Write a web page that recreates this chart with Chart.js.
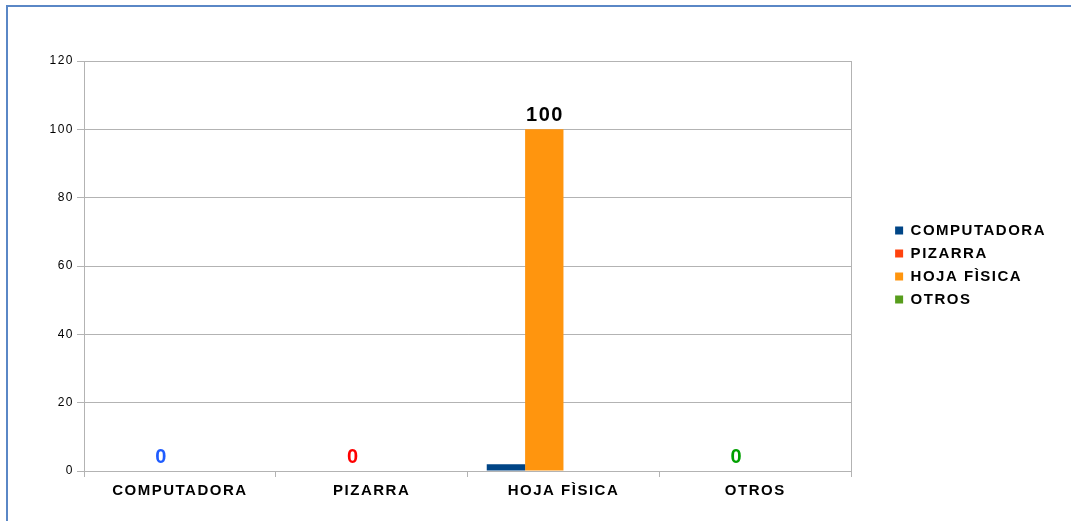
<!DOCTYPE html>
<html>
<head>
<meta charset="UTF-8">
<title>Recursos</title>
<script src="https://cdn.jsdelivr.net/npm/chart.js@4/dist/chart.umd.min.js"></script>
<style>
    html, body { margin: 0; padding: 0; background: #fff; overflow: hidden; }
    #wrap { position: relative; width: 1071px; height: 521px; }
    #frame {
        position: absolute; left: 6px; top: 5px; width: 2000px; height: 2000px;
        border-top: 2px solid #5a87c6; border-left: 2px solid #5a87c6;
    }
    canvas { position: absolute; left: 0; top: 0; }
</style>
</head>
<body>
<div id="wrap">
    <div id="frame"></div>
    <canvas id="chart" width="1071" height="521"></canvas>
</div>
<script>
// data
const categories = ['COMPUTADORA', 'PIZARRA', 'HOJA FÌSICA', 'OTROS'];
const seriesNames = ['COMPUTADORA', 'PIZARRA', 'HOJA FÌSICA', 'OTROS'];
const legendColors = ['#004586', '#ff420e', '#ff950e', '#579d1c'];
const serie1 = [0, 0, 2, 0];
const serie2 = [0, 0, 100, 0];
const serie3 = [0, 0, 0, 0];
const serie4 = [0, 0, 0, 0];
const barColors = ['#004586', '#ff950e', '#ff420e', '#579d1c'];
const labelColors = ['#1f5cff', '#ff0000', '#000000', '#00a000'];
const yTicks = [0, 20, 40, 60, 80, 100, 120];

const FONT = '"Liberation Sans", Arial, sans-serif';
const GRID = '#b3b3b3';
const SPACING = 1.5;

// wide LibreOffice-like letter spacing
const spacing = {
    id: 'spacing',
    beforeUpdate(chart) { chart.ctx.letterSpacing = SPACING + 'px'; },
    beforeDraw(chart) { chart.ctx.letterSpacing = SPACING + 'px'; }
};

// move legend away from the plot
const legendShift = {
    id: 'legendShift',
    afterLayout(chart) {
        const lg = chart.legend;
        lg.left += 36;
        lg.right += 36;
        lg.top -= 18;
        lg.bottom -= 18;
    }
};

// value labels on the second series
const valueLabels = {
    id: 'valueLabels',
    afterDatasetsDraw(chart) {
        const ctx = chart.ctx;
        const meta = chart.getDatasetMeta(1);
        ctx.save();
        ctx.font = 'bold 20px ' + FONT;
        ctx.textAlign = 'center';
        ctx.textBaseline = 'alphabetic';
        meta.data.forEach((bar, i) => {
            ctx.fillStyle = labelColors[i];
            ctx.fillText(String(serie2[i]), bar.x + SPACING / 2, bar.y - 8);
        });
        ctx.restore();
    }
};

const datasets = [serie1, serie2, serie3, serie4].map((d, i) => ({
    label: seriesNames[i],
    data: d,
    backgroundColor: barColors[i],
    borderWidth: 0,
    categoryPercentage: 0.8,
    barPercentage: 1.0
}));

new Chart(document.getElementById('chart'), {
    type: 'bar',
    data: { labels: categories, datasets: datasets },
    options: {
        responsive: false,
        animation: false,
        layout: { padding: { left: 46.5, top: 61, right: 51, bottom: 16 } },
        scales: {
            x: {
                grid: {
                    offset: true,
                    color: ctx => ctx.index === undefined ? GRID : 'rgba(0,0,0,0)',
                    tickColor: GRID,
                    tickLength: 6
                },
                border: { color: GRID },
                ticks: { color: '#000', padding: 5, font: { family: FONT, size: 15, weight: 'bold' } }
            },
            y: {
                min: 0,
                max: 120,
                afterBuildTicks: s => { s.ticks = yTicks.map(v => ({ value: v })); },
                grid: { color: GRID, tickColor: GRID, tickLength: 7 },
                border: { color: GRID },
                ticks: { color: '#000', padding: 3, font: { family: FONT, size: 12 } }
            }
        },
        plugins: {
            tooltip: { enabled: false },
            legend: {
                position: 'right',
                labels: {
                    boxWidth: 8,
                    boxHeight: 8,
                    padding: 8,
                    color: '#000',
                    font: { family: FONT, size: 15, weight: 'bold' },
                    generateLabels: () => seriesNames.map((n, i) => ({
                        text: n,
                        fillStyle: legendColors[i],
                        strokeStyle: legendColors[i],
                        lineWidth: 0,
                        hidden: false,
                        datasetIndex: i
                    }))
                }
            }
        }
    },
    plugins: [spacing, legendShift, valueLabels]
});
</script>
</body>
</html>
